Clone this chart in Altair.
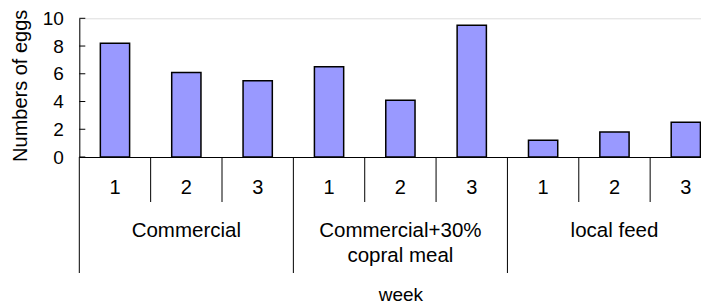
import altair as alt
import pandas as pd

# ---- data ----
groups = ["Commercial", "Commercial+30%\ncopral meal", "local feed"]
weeks = ["1", "2", "3"]
eggs = [8.2, 6.1, 5.5, 6.5, 4.1, 9.5, 1.2, 1.8, 2.5]
y_ticks = [0, 2, 4, 6, 8, 10]

rows = []
for gi, g in enumerate(groups):
    for wi, w in enumerate(weeks):
        rows.append({"group": g, "week": w, "key": f"{gi}-{w}",
                     "eggs": eggs[gi * 3 + wi]})
df = pd.DataFrame(rows)
keys = list(df["key"])
last_key = keys[-1]

W = 642.2
H = 138.7
FONT = "Liberation Sans"
PAD_L = 71.3

xscale = alt.Scale(type="band", paddingInner=0, paddingOuter=0)
yscale = alt.Scale(domain=[0, 10], nice=False, zero=True)


def xk(**kw):
    return alt.X("key:N", sort=keys, scale=xscale, title="week", **kw)


def yk():
    return alt.Y("eggs:Q", scale=yscale, title="Numbers of eggs")


base = alt.Chart(df)

bars = base.mark_bar(
    width={"band": 0.41}, color="#9999FF", stroke="black", strokeWidth=1.5
).encode(x=xk(), y=yk())

# inward y ticks
yt = alt.Chart(pd.DataFrame({"eggs": y_ticks})).mark_rule(
    color="black", strokeWidth=1
).encode(y=yk(), x=alt.value(0), x2=alt.value(6))

# short separators between weeks
short_sep = base.transform_filter("datum.week != '1'").mark_rule(
    color="black", strokeWidth=1
).encode(x=xk(bandPosition=0), y=alt.value(H), y2=alt.value(H + 45))

# long separators between groups
long_sep = base.transform_filter("datum.week == '1'").mark_rule(
    color="black", strokeWidth=1
).encode(x=xk(bandPosition=0), y=alt.value(H), y2=alt.value(H + 116))

long_end = base.transform_filter(f"datum.key == '{last_key}'").mark_rule(
    color="black", strokeWidth=1
).encode(x=xk(bandPosition=1), y=alt.value(H), y2=alt.value(H + 116))

week_lbl = base.mark_text(
    baseline="alphabetic", align="center", font=FONT, fontSize=20, color="black"
).encode(x=xk(), y=alt.value(H + 37), text="week:N")

group_lbl = base.transform_filter("datum.week == '2'").mark_text(
    baseline="alphabetic", align="center", font=FONT, fontSize=20.5,
    color="black", lineBreak="\n", lineHeight=25
).encode(x=xk(), y=alt.value(H + 80.3), text="group:N")

chart = alt.layer(
    bars, yt, short_sep, long_sep, long_end, week_lbl, group_lbl
).properties(
    width=W, height=H,
    padding={"left": PAD_L, "top": 10.3, "right": 693 - PAD_L - W, "bottom": 148},
    autosize=alt.AutoSizeParams(type="none"),
).configure_view(stroke=None).configure(
    font=FONT, background="white"
).configure_axis(
    grid=False, ticks=False, domainColor="black", domainWidth=1,
    titleFont=FONT, titleFontWeight="normal", titleColor="black",
    titleBaseline="alphabetic", titleAlign="center",
    labelFont=FONT, labelColor="black",
).configure_axisX(
    labels=False, titleX=W / 2, titleY=143.7, titleFontSize=19,
).configure_axisY(
    tickCount=5, labelPadding=16, labelOverlap=False, labelBound=False,
    labelFontSize=19, titleX=-53.3, titleY=67, titleAngle=270,
    titleFontSize=20,
)

chart.save("out.html", embed_options={"renderer": "svg", "actions": False})
